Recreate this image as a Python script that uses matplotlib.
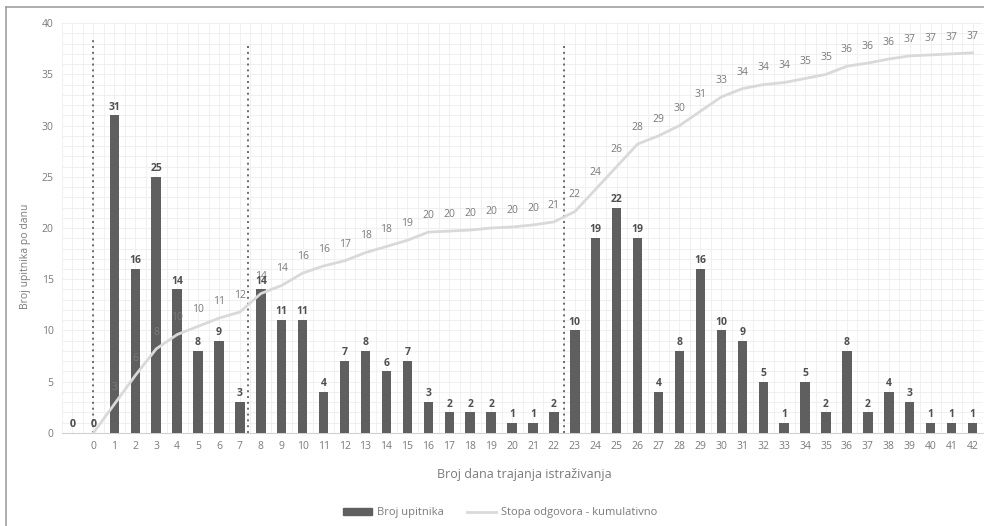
import matplotlib

matplotlib.use("Agg")

import matplotlib.pyplot as plt
from matplotlib.lines import Line2D

plt.rcParams["font.family"] = ["Open Sans", "DejaVu Sans"]

# categories: a blank first slot, then days 0..42
days = [""] + [str(d) for d in range(43)]
daily_counts = [0, 0, 31, 16, 25, 14, 8, 9, 3, 14, 11, 11, 4, 7, 8, 6, 7, 3, 2, 2, 2, 1, 1, 2,
                10, 19, 22, 19, 4, 8, 16, 10, 9, 5, 1, 5, 2, 8, 2, 4, 3, 1, 1, 1]
cumulative_rate = [0, 0, 2.8, 5.6, 8.2, 9.6, 10.4, 11.2, 11.8, 13.6, 14.4, 15.6, 16.3, 16.8,
                   17.6, 18.2, 18.8, 19.6, 19.7, 19.8, 20.0, 20.1, 20.3, 20.6, 21.6, 23.8, 26.0,
                   28.2, 29.0, 30.0, 31.4, 32.8, 33.6, 34.0, 34.2, 34.6, 35.0, 35.8, 36.1, 36.5,
                   36.8, 36.9, 37.0, 37.1]
# reminder markers (category position, height)
marker_pos = [1, 8.4, 23.5]
marker_top = [38.5, 38, 38.1]

BAR = "#5f5f5f"
LINE = "#d9d9d9"
TEXT = "#7a7a7a"

fig = plt.figure(figsize=(9.84, 5.26), dpi=100)
ax = fig.add_axes([0.063, 0.177, 0.936, 0.779])

x = list(range(len(days)))
ax.bar(x, daily_counts, width=0.45, color=BAR, zorder=3, label="Broj upitnika")
ax.plot(x[1:], cumulative_rate[1:], color=LINE, linewidth=2, zorder=4,
        label="Stopa odgovora - kumulativno")

for xi, v in zip(x, daily_counts):
    ax.annotate(str(v), (xi, v), xytext=(0, 2), textcoords="offset points",
                ha="center", va="bottom", fontsize=7.5, color="#505050",
                fontweight="bold", zorder=6)
for xi, v in zip(x, cumulative_rate):
    # zero values sit on top of the zero bar labels, as in the source chart
    if v == 0:
        ax.annotate("0", (xi, v), xytext=(0, 2), textcoords="offset points",
                    ha="center", va="bottom", fontsize=7.5, color=TEXT, zorder=5)
        continue
    ax.annotate(str(int(round(v))), (xi, v), xytext=(0, 12), textcoords="offset points",
                ha="center", va="center", fontsize=7.5, color=TEXT, zorder=5)

for pos, top in zip(marker_pos, marker_top):
    ax.plot([pos, pos], [0, top], color="#6a6a6a", linestyle=(0, (1, 2)),
            linewidth=1.4, zorder=2)

ax.set_xlim(-0.5, len(days) - 0.5)
ax.set_ylim(0, 40)
ax.set_xticks(x)
ax.set_xticklabels(days)
ax.set_yticks(range(0, 41, 5))
ax.set_xticks([i + 0.5 for i in range(-1, len(days))], minor=True)
ax.set_yticks(range(0, 41), minor=True)
ax.grid(True, which="both", color="#eeeeee", linewidth=0.6, zorder=0)
ax.tick_params(axis="both", which="both", length=0, colors=TEXT, labelsize=7.5, pad=6)
for side in ["top", "right", "left"]:
    ax.spines[side].set_visible(False)
ax.spines["bottom"].set_color("#d0d0d0")

ax.set_xlabel("Broj dana trajanja istraživanja", fontsize=9, color=TEXT, va="center")
ax.xaxis.set_label_coords(0.502, -0.102)
ax.set_ylabel("Broj upitnika po danu", fontsize=7.5, color=TEXT, va="center")
ax.yaxis.set_label_coords(-0.040, 0.43)

fig.legend(handles=[plt.Rectangle((0, 0), 1, 1, color=BAR),
                    Line2D([0], [0], color=LINE, linewidth=2)],
           labels=["Broj upitnika", "Stopa odgovora - kumulativno"],
           loc="center", bbox_to_anchor=(0.508, 0.025), ncol=2, frameon=False,
           fontsize=8, labelcolor=TEXT, handlelength=2.6, handleheight=0.5,
           handletextpad=0.45, columnspacing=2.1)

# outer frame, only left and top edges visible in the original
fig.add_artist(Line2D([0.006, 0.006], [0, 0.987], color="#a0a0a0", linewidth=1.2))
fig.add_artist(Line2D([0.006, 1], [0.987, 0.987], color="#a0a0a0", linewidth=1.2))

fig.savefig("out.png", dpi=100)
plt.close(fig)
